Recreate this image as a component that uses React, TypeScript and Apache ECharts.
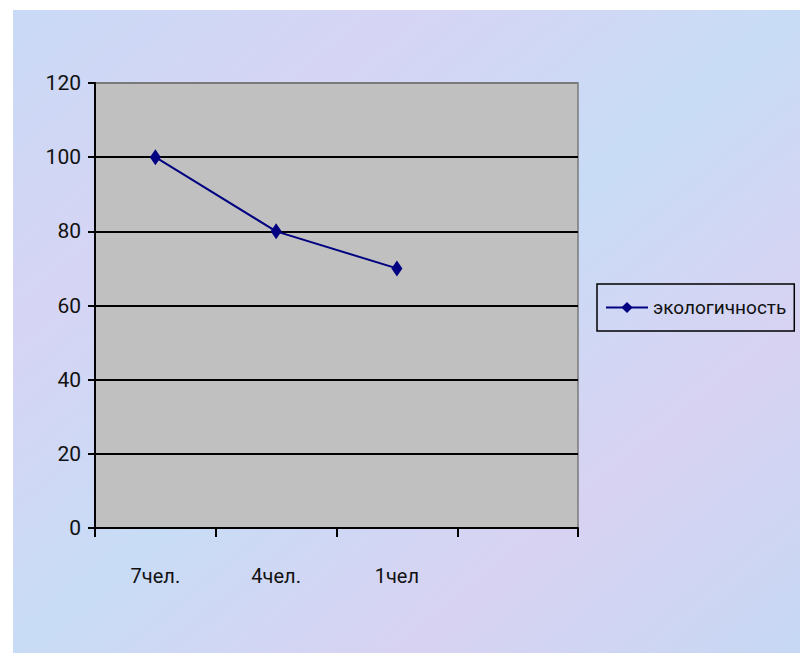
import React, { useEffect, useRef } from "react";
import * as echarts from "echarts";

const categories = ["7чел.", "4чел.", "1чел", ""];
const seriesName = "экологичность";
const values = [100, 80, 70];
const yMin = 0;
const yMax = 120;
const yStep = 20;

const FONT = "Roboto, 'Liberation Sans', sans-serif";

export default function App() {
  const ref = useRef<HTMLDivElement>(null);
  useEffect(() => {
    if (!ref.current) return;
    const chart = echarts.init(ref.current, null, { renderer: "svg" });
    chart.setOption({
      animation: false,
      backgroundColor: "#ffffff",
      graphic: [
        {
          type: "rect",
          z: -10,
          shape: { x: 13, y: 10, width: 787, height: 643 },
          style: {
            fill: new echarts.graphic.LinearGradient(0, 0, 1, 1, [
              { offset: 0, color: "#c9daf6" },
              { offset: 0.25, color: "#d6d4f4" },
              { offset: 0.5, color: "#c8dcf6" },
              { offset: 0.75, color: "#d8d2f2" },
              { offset: 1, color: "#c6d8f4" },
            ]),
          },
          silent: true,
        },
      ],
      grid: {
        left: 95,
        top: 83,
        right: 222,
        bottom: 125,
        show: true,
        backgroundColor: "#c0c0c0",
        borderColor: "#7a7a7a",
        borderWidth: 1.5,
      },
      legend: {
        left: 597,
        top: 284,
        orient: "vertical",
        borderColor: "#000",
        borderWidth: 1.5,
        padding: [14, 8, 14, 8],
        itemWidth: 42,
        itemHeight: 14,
        itemGap: 0,
        textStyle: { fontSize: 19, fontFamily: FONT, color: "#111" },
        data: [seriesName],
      },
      xAxis: {
        type: "category",
        data: categories,
        boundaryGap: true,
        axisLine: { lineStyle: { color: "#000", width: 2 } },
        axisTick: { show: true, length: 9, inside: false, lineStyle: { color: "#000", width: 2 }, alignWithLabel: false },
        axisLabel: { margin: 38, fontSize: 20, fontFamily: FONT, color: "#111" },
        splitLine: { show: false },
      },
      yAxis: {
        type: "value",
        min: yMin,
        max: yMax,
        interval: yStep,
        axisLine: { show: true, lineStyle: { color: "#000", width: 2 } },
        axisTick: { show: true, length: 7, lineStyle: { color: "#000", width: 2 } },
        axisLabel: { margin: 14, fontSize: 21, fontFamily: FONT, color: "#111" },
        splitLine: {
          show: true,
          lineStyle: {
            color: ["#000", "#000", "#000", "#000", "#000", "#000", "#7a7a7a"],
            width: 2,
          },
        },
      },
      series: [
        {
          name: seriesName,
          type: "line",
          data: values,
          symbol: "diamond",
          symbolSize: [11, 16],
          lineStyle: { color: "#000080", width: 2 },
          itemStyle: { color: "#000080" },
        },
      ],
    });
    return () => chart.dispose();
  }, []);
  return <div ref={ref} style={{ position: "fixed", left: 0, top: 0, width: 800, height: 653 }} />;
}
